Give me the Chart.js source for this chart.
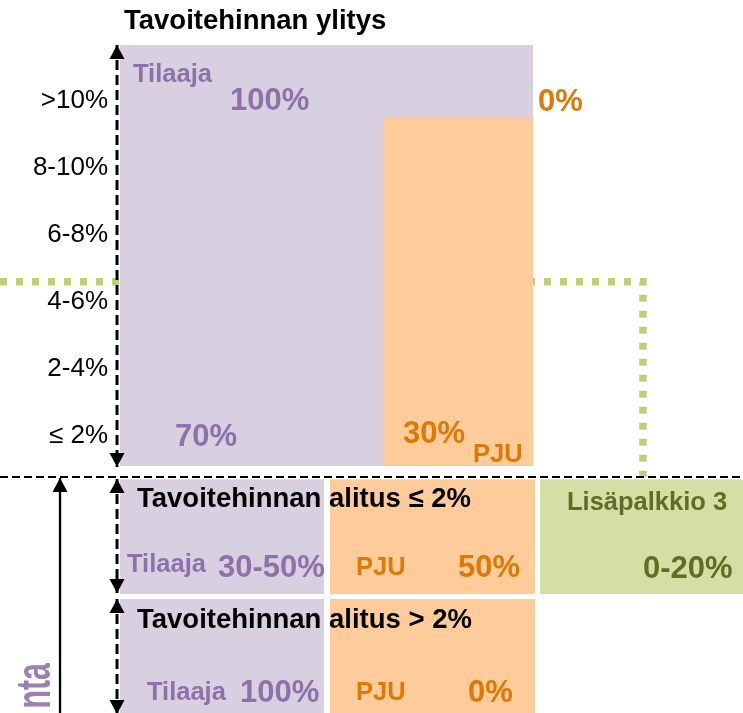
<!DOCTYPE html>
<html><head><meta charset="utf-8">
<script src="https://cdn.jsdelivr.net/npm/chart.js@4"></script>
<style>html,body{margin:0;padding:0;background:#fff;overflow:hidden}#wrap{width:743px;height:713px}</style>
</head><body><div id="wrap"><canvas id="c" width="743" height="713"></canvas></div>
<script>
// ---------- data (axis units: x 0..100 across the slide, y = overrun-band scale) ----------
const bandLabels = ['≤ 2%', '2-4%', '4-6%', '6-8%', '8-10%', '>10%'];
const bandValues = [1, 3, 5, 7, 9, 11];

// upper block: target price exceeded
const overrunTilaajaX = [16.15, 71.74];
const overrunTilaajaY = [0.11, 12.66];
const overrunPjuX = [51.68, 71.74];
const overrunPjuY = [0.11, 10.48];

// lower blocks: target price undercut
const rowSmallY = [-3.70, -0.28];   // alitus ≤ 2%
const rowLargeY = [-7.30, -3.85];   // alitus > 2%
const colTilaajaX = [16.15, 43.61];
const colPjuX = [44.41, 72.0];
const colBonusX = [72.68, 100];

// guide lines
const limitLineY = 5.6;
const limitLineX = 86.54;
const splitLineY = -0.22;

// arrows
const dashArrowX = 15.75;
const dashArrowSpans = [[12.66, 0.08], [-0.276, -3.673], [-3.852, -7.28]];
const solidArrowX = 8.08;
const solidArrowSpan = [-0.246, -7.4];

// texts
const tilaajaShares = ['100%', '70%', '30-50%', '100%'];
const pjuShares = ['0%', '30%', '50%', '0%'];
const bonusShare = '0-20%';
const titles = ['Tavoitehinnan ylitys', 'Tavoitehinnan alitus ≤ 2%', 'Tavoitehinnan alitus > 2%'];
const partyNames = ['Tilaaja', 'PJU', 'Lisäpalkkio 3'];
const sideLabel = 'nta';

// ---------- styles ----------
const C = {
  purpleFill: '#D8CFE1', orangeFill: '#FECB9A', greenFill: '#D4DFA6',
  purple: '#8D71A8', orange: '#DD7A05', olive: '#5F6D25', greenDot: '#BFCF78', black: '#000'
};
const FONT = '"Liberation Sans", Arial, sans-serif';
const F = { title: 'bold 27.5px ' + FONT, name: 'bold 25.5px ' + FONT, pct: 'bold 31px ' + FONT, axis: '26px ' + FONT };

const textLayout = [
  [titles[0], 16.69, 13.136, 'title', C.black],
  [partyNames[0], 17.90, 11.556, 'name', C.purple],
  [tilaajaShares[0], 30.96, 10.722, 'pct', C.purple],
  [pjuShares[0], 72.41, 10.692, 'pct', C.orange],
  [tilaajaShares[1], 23.55, 0.708, 'pct', C.purple],
  [pjuShares[1], 54.24, 0.797, 'pct', C.orange],
  [partyNames[1], 63.66, 0.231, 'name', C.orange],
  [titles[1], 18.44, -1.110, 'title', C.black],
  [partyNames[0], 17.09, -3.048, 'name', C.purple],
  [tilaajaShares[2], 29.34, -3.197, 'pct', C.purple],
  [partyNames[1], 47.91, -3.137, 'name', C.orange],
  [pjuShares[2], 61.64, -3.197, 'pct', C.orange],
  [partyNames[2], 76.31, -1.200, 'name', C.olive],
  [bonusShare, 86.54, -3.226, 'pct', C.olive],
  [titles[2], 18.44, -4.717, 'title', C.black],
  [partyNames[0], 19.78, -6.862, 'name', C.purple],
  [tilaajaShares[3], 32.30, -6.922, 'pct', C.purple],
  [partyNames[1], 47.91, -6.862, 'name', C.orange],
  [pjuShares[3], 62.99, -6.922, 'pct', C.orange]
];

function rect(xr, yr, color, order) {
  return {
    data: [{ x: xr[0], y: yr[1] }, { x: xr[1], y: yr[1] }],
    fill: { value: yr[0] }, backgroundColor: color,
    borderColor: 'rgba(0,0,0,0)', borderWidth: 0.001, order
  };
}
function line(pts, color, width, dash, order) {
  return {
    data: pts, fill: false, borderColor: color, borderWidth: width,
    borderDash: dash, borderCapStyle: 'butt', borderJoinStyle: 'miter', order
  };
}

const datasets = [
  line([{ x: 0, y: limitLineY }, { x: limitLineX, y: limitLineY }, { x: limitLineX, y: splitLineY }], C.greenDot, 7.5, [7, 9], 10),
  rect(overrunTilaajaX, overrunTilaajaY, C.purpleFill, 6),
  rect(overrunPjuX, overrunPjuY, C.orangeFill, 5),
  rect(colTilaajaX, rowSmallY, C.purpleFill, 5),
  rect(colPjuX, rowSmallY, C.orangeFill, 5),
  rect(colBonusX, rowSmallY, C.greenFill, 5),
  rect(colTilaajaX, rowLargeY, C.purpleFill, 5),
  rect(colPjuX, rowLargeY, C.orangeFill, 5),
  line([{ x: 0, y: splitLineY }, { x: 100, y: splitLineY }], C.black, 2, [8, 4], 1),
  ...dashArrowSpans.map(s => line([{ x: dashArrowX, y: s[0] }, { x: dashArrowX, y: s[1] }], C.black, 3, [10, 5], 1)),
  line([{ x: solidArrowX, y: solidArrowSpan[0] }, { x: solidArrowX, y: solidArrowSpan[1] }], C.black, 2.3, [], 1)
];

const overlay = {
  id: 'overlay',
  afterDatasetsDraw(chart) {
    const ctx = chart.ctx, xs = chart.scales.x, ys = chart.scales.y;
    ctx.save();
    // arrow heads
    function head(xv, yv, dir) {
      const px = xs.getPixelForValue(xv), py = ys.getPixelForValue(yv);
      const h = 14, w = 7.5;
      ctx.beginPath();
      ctx.moveTo(px, py);
      ctx.lineTo(px - w, py + dir * h);
      ctx.lineTo(px + w, py + dir * h);
      ctx.closePath();
      ctx.fillStyle = C.black; ctx.fill();
    }
    dashArrowSpans.forEach(s => { head(dashArrowX, s[0], 1); head(dashArrowX, s[1], -1); });
    head(solidArrowX, solidArrowSpan[0], 1);

    // band (y-axis) labels
    ctx.font = F.axis; ctx.fillStyle = C.black; ctx.textAlign = 'right'; ctx.textBaseline = 'middle';
    bandLabels.forEach((l, i) => ctx.fillText(l, xs.getPixelForValue(14.54), ys.getPixelForValue(bandValues[i])));

    // texts
    ctx.textAlign = 'left'; ctx.textBaseline = 'alphabetic';
    textLayout.forEach(([t, xv, yv, f, col]) => {
      ctx.font = F[f]; ctx.fillStyle = col;
      ctx.fillText(t, xs.getPixelForValue(xv), ys.getPixelForValue(yv));
    });

    // rotated, partially visible side label
    ctx.translate(xs.getPixelForValue(6.73), ys.getPixelForValue(-5.76));
    ctx.rotate(-Math.PI / 2);
    ctx.scale(0.62, 1);
    ctx.font = 'bold 49px ' + FONT; ctx.fillStyle = '#9A80B4'; ctx.textAlign = 'right';
    ctx.fillText(sideLabel, 0, 0);
    ctx.restore();
  }
};

new Chart(document.getElementById('c'), {
  type: 'line',
  data: { datasets },
  options: {
    responsive: false, animation: false, devicePixelRatio: 1, events: [],
    layout: { padding: 0 },
    elements: { point: { radius: 0, hoverRadius: 0 }, line: { tension: 0 } },
    plugins: { legend: { display: false }, tooltip: { enabled: false } },
    scales: {
      x: { type: 'linear', min: 0, max: 100, display: false },
      y: { type: 'linear', min: -7.25, max: 14, display: false }
    }
  },
  plugins: [overlay]
});
</script></body></html>
